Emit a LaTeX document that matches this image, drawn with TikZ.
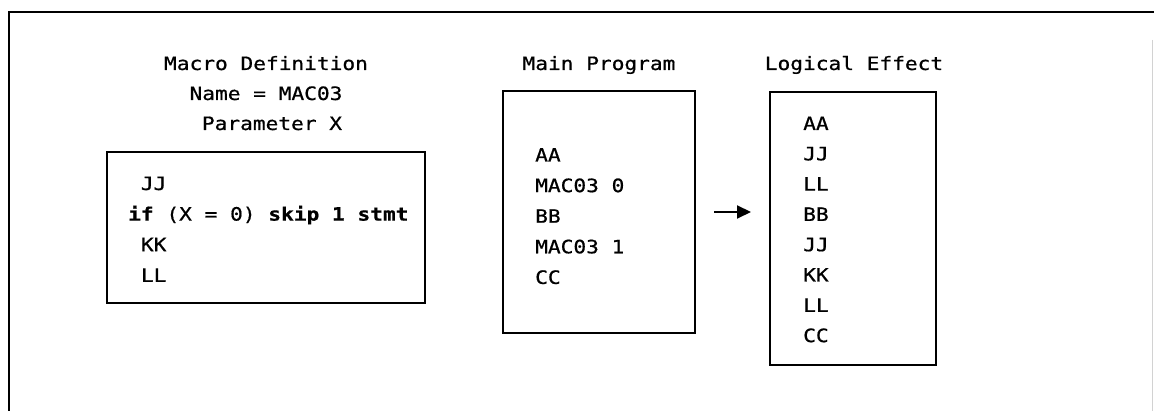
\documentclass[tikz,border=0pt]{standalone}
\usepackage{fontspec}
\usetikzlibrary{arrows.meta}
\newfontfamily\codefont[FakeStretch=1.15,FakeBold=0.7]{DejaVu Sans Mono}
\begin{document}
\begin{tikzpicture}[x=1pt,y=-1pt,
  codetext/.style={font=\codefont\fontsize{18.4pt}{30pt}\selectfont, inner sep=0pt, text=black},
  line/.style={codetext, anchor=base west},
  title/.style={codetext, anchor=base},
  panel/.style={draw, line width=2pt, rectangle, inner sep=0pt},
  flow/.style={line width=2pt, -{Triangle[length=14pt,width=13pt]}, shorten <=18pt, shorten >=18pt}]
\useasboundingbox (0,0) rectangle (1154,411);

% outer frame
\draw[line width=2.6pt] (9,411) -- (9,12) -- (1154,12);
\draw[gray!35, line width=1pt] (1152.5,40) -- (1152.5,411);

% panels
\node[panel, minimum width=318pt, minimum height=151pt] (macro) at (266,227.5) {};
\node[panel, minimum width=192pt, minimum height=242pt] (main) at (599,212) {};
\node[panel, minimum width=166pt, minimum height=273pt] (logic) at (853,228.5) {};

% headings
\node[title] (t1) at (266,70) {Macro Definition};
\node[title] (t2) at (266,100) {Name = MAC03};
\node[title] (t3) at (272,130) {Parameter X};
\node[title] (t4) at (599,70) {Main Program};
\node[title] (t5) at (854,70) {Logical Effect};

% macro body
\node[line] (m1) at (128,190) {\phantom{i}JJ};
\node[line] (m2) at (128,220.6) {\textbf{if} (X = 0) \textbf{skip 1 stmt}};
\node[line] (m3) at (128,251.2) {\phantom{i}KK};
\node[line] (m4) at (128,281.8) {\phantom{i}LL};

% main program
\foreach \t [count=\i from 0] in {AA, MAC03 0, BB, MAC03 1, CC}
  \node[line] (p\i) at (535,161.5+30.6*\i) {\t};

% expanded result
\foreach \t [count=\i from 0] in {AA, JJ, LL, BB, JJ, KK, LL, CC}
  \node[line] (l\i) at (803,130+30.3*\i) {\t};

% expansion arrow
\draw[flow] (main.east) -- (main.east -| logic.west);
\end{tikzpicture}
\end{document}
